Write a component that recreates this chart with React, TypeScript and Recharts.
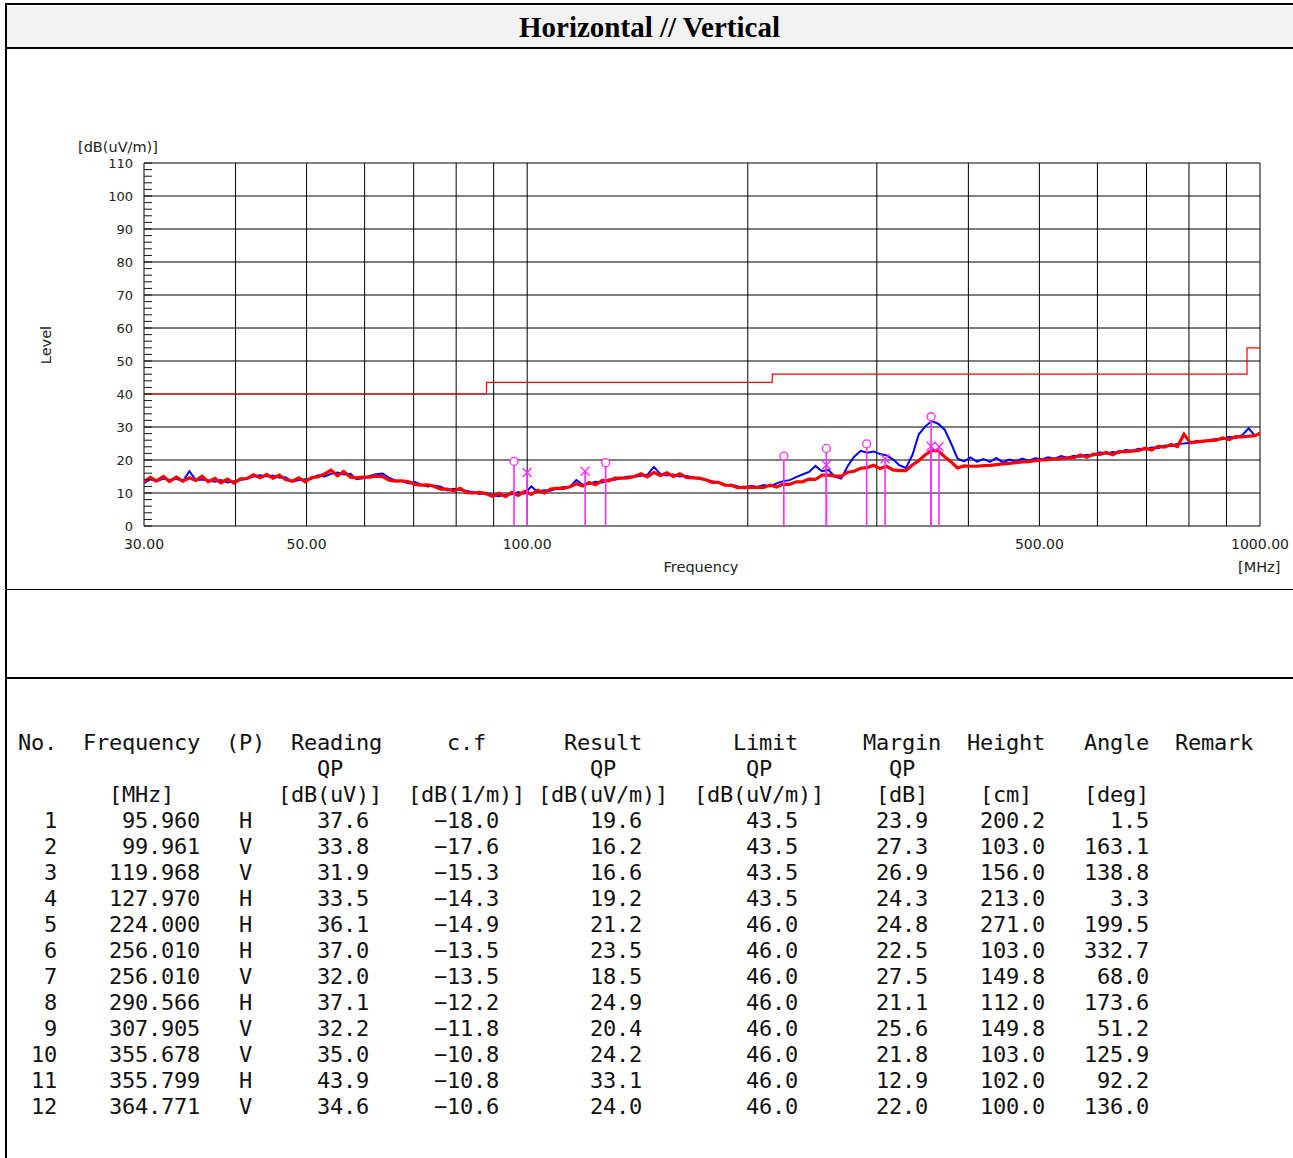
import React from 'react';
import { ComposedChart, Line, Scatter, XAxis, YAxis, CartesianGrid, ReferenceLine } from 'recharts';

// ---------- chart data ----------
const titleText = 'Horizontal // Vertical';
const yUnitLabel = '[dB(uV/m)]';
const yAxisTitle = 'Level';
const xAxisTitle = 'Frequency';
const xUnitLabel = '[MHz]';

const scanFreqs = [
  30, 30.6, 31.2, 31.9, 32.5, 33.2, 33.9, 34.6, 35.3, 36.0,
  36.7, 37.5, 38.2, 39.0, 39.8, 40.6, 41.5, 42.3, 43.2, 44.1,
  45.0, 45.9, 46.8, 47.8, 48.8, 49.8, 50.8, 51.8, 52.9, 54.0,
  55.1, 56.2, 57.4, 58.5, 59.7, 61.0, 62.2, 63.5, 64.8, 66.1,
  67.5, 68.9, 70.3, 71.7, 73.2, 74.7, 76.2, 77.8, 79.4, 81.0,
  82.7, 84.4, 86.1, 87.9, 89.7, 91.5, 93.4, 95.3, 97.2, 99.2,
  101.3, 103.3, 105.5, 107.6, 109.8, 112.1, 114.4, 116.7, 119.1, 121.5,
  124.0, 126.6, 129.2, 131.8, 134.5, 137.3, 140.1, 143.0, 145.9, 148.9,
  152.0, 155.1, 158.3, 161.5, 164.8, 168.2, 171.6, 175.2, 178.8, 182.4,
  186.2, 190.0, 193.9, 197.9, 201.9, 206.1, 210.3, 214.6, 219.0, 223.5,
  228.1, 232.8, 237.5, 242.4, 247.4, 252.5, 257.6, 262.9, 268.3, 273.8,
  279.4, 285.2, 291.0, 297.0, 303.1, 309.3, 315.6, 322.1, 328.7, 335.5,
  342.3, 349.4, 356.5, 363.8, 371.3, 378.9, 386.7, 394.6, 402.7, 411.0,
  419.4, 428.0, 436.8, 445.8, 454.9, 464.2, 473.8, 483.5, 493.4, 503.5,
  513.9, 524.4, 535.2, 546.2, 557.4, 568.8, 580.5, 592.4, 604.6, 617.0,
  629.7, 642.6, 655.8, 669.3, 683.0, 697.1, 711.4, 726.0, 740.9, 756.1,
  771.7, 787.5, 803.7, 820.2, 837.0, 854.2, 871.7, 889.6, 907.9, 926.5,
  945.6, 965.0, 984.8, 1000,
];

const verticalLevels = [
  13.4, 14.7, 13.7, 15.0, 13.5, 14.8, 13.6, 14.6, 13.8, 15.1,
  13.4, 14.4, 13.1, 14.2, 13.0, 14.3, 14.4, 15.5, 14.6, 15.6,
  14.5, 15.4, 14.1, 13.6, 14.6, 13.4, 14.7, 14.9, 15.8, 16.9,
  15.2, 16.5, 14.8, 14.6, 14.8, 14.8, 15.1, 15.0, 13.9, 13.6,
  13.7, 13.4, 12.6, 12.4, 12.5, 12.0, 11.2, 11.2, 10.6, 11.4,
  10.1, 10.0, 10.2, 9.8, 9.0, 9.9, 8.9, 10.2, 9.3, 10.5,
  9.6, 10.8, 10.0, 11.2, 11.4, 11.4, 11.9, 12.8, 12.1, 13.2,
  12.5, 13.8, 13.7, 14.5, 14.5, 14.6, 15.0, 15.8, 14.9, 16.2,
  15.3, 16.1, 15.0, 15.8, 14.7, 14.6, 14.5, 14.0, 13.2, 13.2,
  12.4, 12.3, 11.6, 11.8, 11.7, 11.7, 11.7, 12.4, 11.8, 12.7,
  12.6, 13.4, 13.4, 14.2, 14.1, 15.4, 15.4, 15.1, 15.1, 16.3,
  16.6, 17.5, 17.7, 18.4, 17.4, 18.1, 17.0, 16.8, 16.8, 18.5,
  19.8, 21.6, 22.9, 22.8, 21.0, 19.4, 17.6, 18.2, 18.1, 18.1,
  18.3, 18.4, 18.6, 18.8, 19.0, 19.2, 19.4, 19.5, 19.8, 20.0,
  20.1, 20.3, 20.4, 20.6, 20.7, 21.5, 20.8, 21.8, 21.7, 22.3,
  21.6, 22.6, 22.5, 22.7, 22.9, 23.6, 23.0, 24.1, 23.9, 24.7,
  24.1, 27.8, 25.2, 25.5, 25.7, 25.9, 26.0, 26.7, 26.2, 27.1,
  27.0, 27.2, 27.4, 28.1,
];

const horizontalLevels = [
  13.0, 14.2, 13.5, 14.4, 13.9, 14.3, 13.6, 16.6, 13.9, 14.1,
  13.8, 13.4, 13.9, 13.2, 13.6, 13.9, 14.4, 15.0, 15.4, 15.0,
  15.3, 14.6, 14.8, 13.4, 13.9, 14.2, 14.3, 15.4, 15.0, 15.8,
  16.2, 15.6, 15.8, 14.2, 14.5, 15.2, 15.7, 15.9, 14.6, 13.8,
  13.6, 12.9, 13.3, 12.5, 12.0, 12.3, 11.9, 10.8, 11.3, 10.9,
  10.6, 10.2, 9.7, 10.1, 9.4, 9.0, 9.5, 9.6, 10.3, 9.8,
  12.0, 10.4, 10.8, 10.7, 11.4, 11.8, 11.9, 13.9, 12.5, 12.8,
  13.4, 13.2, 14.1, 14.0, 14.5, 15.0, 14.9, 15.2, 15.5, 17.9,
  15.7, 15.3, 15.6, 15.0, 15.2, 14.7, 14.3, 14.1, 13.6, 13.2,
  12.3, 12.5, 12.0, 11.4, 12.2, 11.8, 12.4, 12.0, 12.9, 13.6,
  13.9, 14.8, 15.6, 16.4, 18.2, 16.6, 17.0, 15.0, 14.4, 18.2,
  21.0, 22.8, 22.2, 22.6, 21.8, 21.4, 20.2, 18.4, 17.6, 21.5,
  27.8, 30.2, 31.8, 31.0, 29.2, 25.0, 20.4, 19.6, 20.8, 19.5,
  20.3, 19.4, 20.6, 19.3, 20.1, 19.6, 20.4, 19.8, 20.5, 20.2,
  20.8, 20.4, 21.2, 20.7, 21.3, 21.0, 21.6, 21.4, 22.3, 21.9,
  22.4, 22.2, 23.0, 22.8, 23.4, 23.2, 23.8, 23.6, 24.4, 24.2,
  24.9, 25.0, 25.2, 25.8, 25.6, 26.1, 26.4, 26.3, 27.0, 26.7,
  27.5, 29.6, 27.3, 28.1,
];

const limitFreqs = [30, 88, 216, 960, 1000];
const limitLevels = [40, 43.5, 46, 54, 54];

const xGridTicks = [30, 40, 50, 60, 70, 80, 90, 100, 200, 300, 400, 500, 600, 700, 800, 900, 1000];
const xLabelTicks = [30, 50, 100, 500, 1000];
const yMajorTicks = [0, 10, 20, 30, 40, 50, 60, 70, 80, 90, 100, 110];
const yMinorTicks = [
  0, 2, 4, 6, 8, 10, 12, 14, 16, 18, 20, 22, 24, 26, 28, 30, 32, 34, 36, 38,
  40, 42, 44, 46, 48, 50, 52, 54, 56, 58, 60, 62, 64, 66, 68, 70, 72, 74, 76, 78,
  80, 82, 84, 86, 88, 90, 92, 94, 96, 98, 100, 102, 104, 106, 108, 110,
];

// ---------- peak table data ----------
const peakNo = [1, 2, 3, 4, 5, 6, 7, 8, 9, 10, 11, 12];
const peakFreq = [95.96, 99.961, 119.968, 127.97, 224.0, 256.01, 256.01, 290.566, 307.905, 355.678, 355.799, 364.771];
const peakPol = ['H', 'V', 'V', 'H', 'H', 'H', 'V', 'H', 'V', 'V', 'H', 'V'];
const peakReading = [37.6, 33.8, 31.9, 33.5, 36.1, 37.0, 32.0, 37.1, 32.2, 35.0, 43.9, 34.6];
const peakCf = [-18.0, -17.6, -15.3, -14.3, -14.9, -13.5, -13.5, -12.2, -11.8, -10.8, -10.8, -10.6];
const peakResult = [19.6, 16.2, 16.6, 19.2, 21.2, 23.5, 18.5, 24.9, 20.4, 24.2, 33.1, 24.0];
const peakLimit = [43.5, 43.5, 43.5, 43.5, 46.0, 46.0, 46.0, 46.0, 46.0, 46.0, 46.0, 46.0];
const peakMargin = [23.9, 27.3, 26.9, 24.3, 24.8, 22.5, 27.5, 21.1, 25.6, 21.8, 12.9, 22.0];
const peakHeight = [200.2, 103.0, 156.0, 213.0, 271.0, 103.0, 149.8, 112.0, 149.8, 103.0, 102.0, 100.0];
const peakAngle = [1.5, 163.1, 138.8, 3.3, 199.5, 332.7, 68.0, 173.6, 51.2, 125.9, 92.2, 136.0];

const headerTitles = ['No.', 'Frequency', '(P)', 'Reading', 'c.f', 'Result', 'Limit', 'Margin', 'Height', 'Angle', 'Remark'];
const headerTitleCols = [0, 5, 16, 21, 33, 42, 55, 65, 73, 82, 89];
const headerDetectors = ['QP', 'QP', 'QP', 'QP'];
const headerDetectorCols = [23, 44, 56, 67];
const headerUnits = ['[MHz]', '[dB(uV)]', '[dB(1/m)]', '[dB(uV/m)]', '[dB(uV/m)]', '[dB]', '[cm]', '[deg]'];
const headerUnitCols = [7, 20, 30, 40, 52, 66, 74, 82];

// ---------- derived ----------
const n = Math.min(scanFreqs.length, verticalLevels.length, horizontalLevels.length);
const hData = scanFreqs.slice(0, n).map((f, i) => ({ x: f, y: horizontalLevels[i] }));
const vData = scanFreqs.slice(0, n).map((f, i) => ({ x: f, y: verticalLevels[i] }));
const limitData = limitFreqs.map((f, i) => ({ x: f, y: limitLevels[i] }));
const markerData = peakFreq.map((f, i) => ({ x: f, y: peakResult[i], pol: peakPol[i] }));

const placeAt = (cols: number[], texts: string[]) => {
  let s = '';
  cols.forEach((c, i) => {
    s = s.padEnd(c, ' ') + texts[i];
  });
  return s;
};
const padL = (s: string, w: number) => s.padStart(w, ' ');
const num = (v: number, d: number) => v.toFixed(d).replace('-', '\u2212');
const tableLines = [
  placeAt(headerTitleCols, headerTitles),
  placeAt(headerDetectorCols, headerDetectors),
  placeAt(headerUnitCols, headerUnits),
  ...peakNo.map(
    (no, i) =>
      padL(String(no), 3) +
      padL(num(peakFreq[i], 3), 11) +
      padL(peakPol[i], 4) +
      padL(num(peakReading[i], 1), 9) +
      padL(num(peakCf[i], 1), 10) +
      padL(num(peakResult[i], 1), 11) +
      padL(num(peakLimit[i], 1), 12) +
      padL(num(peakMargin[i], 1), 10) +
      padL(num(peakHeight[i], 1), 9) +
      padL(num(peakAngle[i], 1), 8)
  ),
];

const LABEL_FONT = "'DejaVu Sans', sans-serif";
const MAGENTA = '#ff2bff';

const YTick = (props: any) => {
  const { x, y, payload } = props;
  const v = payload.value as number;
  const major = yMajorTicks.includes(v);
  return (
    <g>
      <line x1={x + 11} x2={x + 19} y1={y} y2={y} stroke="#111" strokeWidth={1} />
      {major && (
        <text x={x} y={y} dy="0.36em" textAnchor="end" fontSize={13} fontFamily={LABEL_FONT} fill="#222">
          {v}
        </text>
      )}
    </g>
  );
};

const XTick = (props: any) => {
  const { x, y, payload } = props;
  const v = payload.value as number;
  if (!xLabelTicks.includes(v)) return <g />;
  return (
    <text x={x} y={y} dy="0.71em" textAnchor="middle" fontSize={14} fontFamily={LABEL_FONT} fill="#222">
      {v.toFixed(2)}
    </text>
  );
};

const MarkerShape = (props: any) => {
  const { cx, cy, payload } = props;
  if (cx == null || cy == null) return <g />;
  if (payload.pol === 'H') {
    return <circle cx={cx} cy={cy} r={4} fill="#fff" stroke={MAGENTA} strokeWidth={1.3} />;
  }
  return (
    <g stroke={MAGENTA} strokeWidth={1.4}>
      <line x1={cx - 4.5} y1={cy - 4.5} x2={cx + 4.5} y2={cy + 4.5} />
      <line x1={cx - 4.5} y1={cy + 4.5} x2={cx + 4.5} y2={cy - 4.5} />
    </g>
  );
};

const abs = (l: number, t: number, extra: React.CSSProperties = {}): React.CSSProperties => ({
  position: 'absolute',
  left: l,
  top: t,
  ...extra,
});

export default function App() {
  return (
    <div style={{ position: 'absolute', left: 0, top: 0, width: 1293, height: 1158, background: '#fff', overflow: 'hidden' }}>
      {/* frame */}
      <div style={abs(6, 6, { width: 1287, height: 42, background: '#f2f2f2' })} />
      <div style={abs(6, 3, { width: 1287, height: 2, background: '#000' })} />
      <div style={abs(6, 47, { width: 1287, height: 2, background: '#000' })} />
      <div style={abs(5, 3, { width: 2, height: 1155, background: '#000' })} />
      <div style={abs(6, 589, { width: 1287, height: 1, background: '#000' })} />
      <div style={abs(6, 677, { width: 1287, height: 2, background: '#000' })} />
      <div
        style={abs(6, 6, {
          width: 1287,
          height: 42,
          lineHeight: '42px',
          textAlign: 'center',
          fontFamily: "'Liberation Serif', 'Times New Roman', serif",
          fontWeight: 'bold',
          fontSize: 29,
          color: '#000',
        })}
      >
        {titleText}
      </div>

      {/* chart labels */}
      <div style={abs(78, 138, { fontFamily: LABEL_FONT, fontSize: 14.5, lineHeight: '18px', color: '#222', whiteSpace: 'pre' })}>
        {yUnitLabel}
      </div>
      <div
        style={abs(46, 345, {
          fontFamily: LABEL_FONT,
          fontSize: 14.5,
          lineHeight: '18px',
          color: '#222',
          transform: 'translate(-50%, -50%) rotate(-90deg)',
          whiteSpace: 'pre',
        })}
      >
        {yAxisTitle}
      </div>
      <div
        style={abs(701, 567, {
          fontFamily: LABEL_FONT,
          fontSize: 14.5,
          lineHeight: '18px',
          color: '#222',
          transform: 'translate(-50%, -50%)',
          whiteSpace: 'pre',
        })}
      >
        {xAxisTitle}
      </div>
      <div style={abs(1238, 558, { fontFamily: LABEL_FONT, fontSize: 14.5, lineHeight: '18px', color: '#222', whiteSpace: 'pre' })}>
        {xUnitLabel}
      </div>

      {/* chart */}
      <div style={abs(0, 130, { width: 1293, height: 460 })}>
        <ComposedChart width={1293} height={460} margin={{ top: 33, right: 33, bottom: 0, left: 0 }}>
          <CartesianGrid
            horizontalValues={yMajorTicks}
            verticalValues={xGridTicks}
            stroke="#000"
            strokeWidth={1}
            fill="none"
          />
          <XAxis
            dataKey="x"
            type="number"
            scale="log"
            domain={[30, 1000]}
            allowDataOverflow
            ticks={xGridTicks}
            interval={0}
            tick={<XTick />}
            tickLine={false}
            axisLine={false}
            tickSize={0}
            tickMargin={13}
            height={64}
          />
          <YAxis
            dataKey="y"
            type="number"
            domain={[0, 110]}
            allowDataOverflow
            ticks={yMinorTicks}
            interval={0}
            tick={<YTick />}
            tickLine={false}
            axisLine={false}
            tickSize={0}
            tickMargin={11}
            width={144}
          />
          <Line data={limitData} dataKey="y" type="stepAfter" stroke="#ff0000" strokeWidth={1.2} dot={false} isAnimationActive={false} />
          <Line data={hData} dataKey="y" type="linear" stroke="#0000ff" strokeWidth={2} dot={false} isAnimationActive={false} />
          <Line data={vData} dataKey="y" type="linear" stroke="#ff0000" strokeWidth={3.2} dot={false} isAnimationActive={false} />
          {markerData.map((m, i) => (
            <ReferenceLine
              key={i}
              segment={[
                { x: m.x, y: 0 },
                { x: m.x, y: m.y },
              ]}
              stroke={MAGENTA}
              strokeWidth={1.6}
            />
          ))}
          <Scatter data={markerData} dataKey="y" shape={<MarkerShape />} isAnimationActive={false} />
        </ComposedChart>
      </div>

      {/* table */}
      <div
        style={abs(18, 730, {
          fontFamily: "'DejaVu Sans Mono', monospace",
          fontSize: 22,
          lineHeight: '26px',
          letterSpacing: '-0.245px',
          color: '#111',
          whiteSpace: 'pre',
        })}
      >
        {tableLines.map((l, i) => (
          <div key={i} style={{ height: 26 }}>
            {l}
          </div>
        ))}
      </div>
    </div>
  );
}
